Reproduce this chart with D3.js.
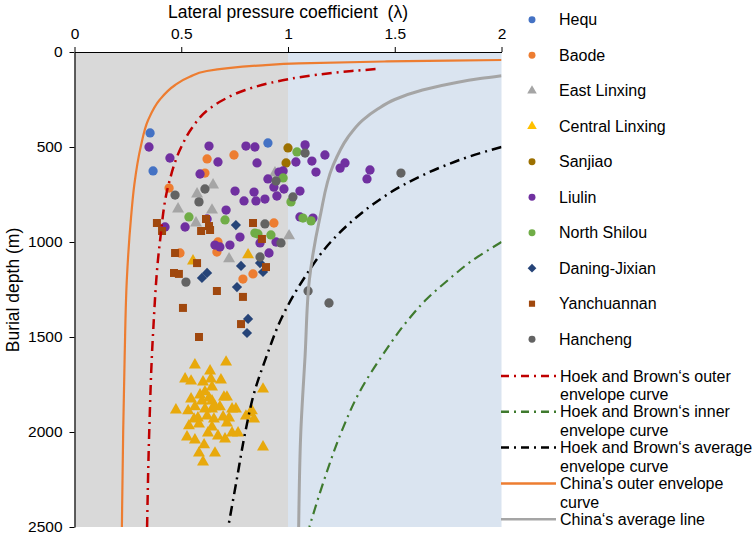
<!DOCTYPE html>
<html><head><meta charset="utf-8">
<script src="https://cdn.jsdelivr.net/npm/d3@7"></script>
<style>
html,body{margin:0;padding:0;background:#fff;}
text{font-family:"Liberation Sans",Arial,sans-serif;fill:#000;}
</style></head>
<body><svg id="c" width="754" height="534"></svg>
<script>
// ---- data: [lambda, depth (m)] ----
const xTicks = [0, 0.5, 1, 1.5, 2];
const yTicks = [0, 500, 1000, 1500, 2000, 2500];
const categories = ["Hequ","Baode","East Linxing","Central Linxing","Sanjiao","Liulin","North Shilou","Daning-Jixian","Yanchuannan","Hancheng"];
const hequ = [[0.354,426],[0.368,626],[0.906,479]];
const baode = [[0.443,716],[0.621,563],[0.747,542],[0.611,637],[0.934,900],[0.672,1000],[0.667,1053],[0.494,1058],[0.789,1195],[0.836,1168]];
const eastLinxing = [[0.649,700],[0.574,747],[0.485,826],[0.644,832],[0.569,900],[0.724,1089],[1.005,968],[0.939,637]];
const centralLinxing = [[0.564,1647],[0.710,1632],[0.635,1679],[0.518,1721],[0.546,1732],[0.602,1737],[0.639,1721],[0.686,1726],[0.644,1763],[0.611,1789],[0.588,1805],[0.700,1816],[0.630,1821],[0.546,1826],[0.597,1837],[0.644,1837],[0.681,1868],[0.714,1816],[0.475,1884],[0.532,1889],[0.564,1868],[0.611,1879],[0.644,1879],[0.658,1868],[0.738,1879],[0.756,1879],[0.831,1889],[0.560,1932],[0.578,1926],[0.621,1916],[0.653,1932],[0.696,1921],[0.724,1926],[0.803,1916],[0.841,1932],[0.536,1968],[0.583,1958],[0.644,1974],[0.714,1953],[0.527,2026],[0.564,2042],[0.625,2005],[0.672,2021],[0.705,2037],[0.738,2005],[0.766,2005],[0.607,2068],[0.583,2111],[0.658,2111],[0.602,2158],[0.883,1774],[0.883,2079],[0.822,1900],[0.555,1100],[0.813,1068]];
const sanjiao = [[1.000,505],[0.991,584]];
const liulin = [[0.349,500],[0.447,558],[0.630,495],[0.672,579],[0.588,642],[0.803,495],[0.845,500],[0.855,584],[0.958,632],[0.906,668],[0.934,711],[0.752,732],[0.841,737],[0.794,784],[0.850,784],[0.892,774],[0.948,758],[0.710,832],[1.080,489],[1.173,542],[1.037,579],[1.112,574],[1.131,632],[1.244,611],[1.267,584],[1.384,621],[1.370,668],[0.977,626],[0.981,721],[1.056,732],[1.056,868],[1.117,874],[0.424,921],[0.518,921],[0.621,879],[0.658,1016],[0.681,1026],[0.728,1016],[0.775,974],[0.869,1005],[0.911,1058],[0.944,1000]];
const northShilou = [[1.042,526],[0.977,663],[1.014,789],[1.070,874],[1.108,889],[0.536,868],[0.705,884],[0.845,953],[0.859,958],[0.920,963]];
const daningJixian = [[0.756,911],[0.780,1126],[0.869,1111],[0.883,1158],[0.621,1163],[0.597,1189],[0.761,1237],[0.813,1405],[0.808,1479]];
const yanchuannan = [[0.386,900],[0.410,942],[0.616,879],[0.630,916],[0.635,937],[0.593,942],[0.836,900],[0.878,984],[0.897,1132],[0.471,1058],[0.574,1111],[0.466,1163],[0.489,1168],[0.667,1258],[0.789,1289],[0.508,1347],[0.583,1500],[0.780,1432]];
const hancheng = [[0.471,753],[0.611,721],[0.583,789],[0.944,679],[1.080,532],[1.023,763],[0.892,905],[0.869,1079],[0.522,1211],[0.967,1005],[1.094,1258],[1.192,1321],[1.529,637]];

// curves: [lambda, depth]
const hbOuter = [[1.41,90],[1.30,100],[1.21,110],[1.07,130],[0.97,150],[0.80,200],[0.70,250],[0.63,300],[0.55,400],[0.50,500],[0.44,700],[0.40,1000],[0.367,1500],[0.35,2000],[0.34,2500]];
const hbInner = [[2.0,1000],[1.86,1100],[1.75,1200],[1.65,1300],[1.57,1400],[1.44,1600],[1.33,1800],[1.25,2000],[1.17,2250],[1.10,2500]];
const hbAverage = [[2.0,500],[1.85,550],[1.73,600],[1.54,700],[1.40,800],[1.29,900],[1.20,1000],[1.07,1200],[0.97,1400],[0.90,1600],[0.84,1800],[0.80,2000],[0.76,2250],[0.72,2500]];
const chinaOuter = [[2.0,42],[1.75,45],[1.45,50],[1.05,60],[0.88,70],[0.72,85],[0.62,100],[0.54,130],[0.47,175],[0.40,250],[0.345,358],[0.31,500],[0.28,700],[0.265,868],[0.245,1200],[0.235,1600],[0.228,2000],[0.222,2500]];
const chinaAverage = [[2.0,125],[1.90,140],[1.79,160],[1.63,200],[1.50,250],[1.42,300],[1.35,358],[1.28,450],[1.21,600],[1.15,868],[1.10,1200],[1.08,1600],[1.06,2000],[1.05,2500]];

const seriesList = [
  {name:"Hequ", data:hequ, shape:"circle", color:"#4472C4"},
  {name:"Baode", data:baode, shape:"circle", color:"#ED7D31"},
  {name:"East Linxing", data:eastLinxing, shape:"triangle", color:"#A5A5A5"},
  {name:"Central Linxing", data:centralLinxing, shape:"triangle", color:"#E8A90C"},
  {name:"Sanjiao", data:sanjiao, shape:"circle", color:"#9C7000"},
  {name:"Liulin", data:liulin, shape:"circle", color:"#7030A0"},
  {name:"North Shilou", data:northShilou, shape:"circle", color:"#70AD47"},
  {name:"Daning-Jixian", data:daningJixian, shape:"diamond", color:"#264478"},
  {name:"Yanchuannan", data:yanchuannan, shape:"square", color:"#A0480E"},
  {name:"Hancheng", data:hancheng, shape:"circle", color:"#636363"}
];
const lineList = [
  {name:["Hoek and Brown\u2018s outer","envelope curve"], data:hbOuter, color:"#C00000", dash:"10,5,2,5", width:2.5},
  {name:["Hoek and Brown\u2018s inner","envelope curve"], data:hbInner, color:"#3F7A2E", dash:"10,5,2,5", width:2.2},
  {name:["Hoek and Brown\u2018s average","envelope curve"], data:hbAverage, color:"#000000", dash:"10,5,2,5", width:2.5},
  {name:["China\u2019s outer envelope","curve"], data:chinaOuter, color:"#ED7D31", dash:null, width:2.2},
  {name:["China\u2018s average line"], data:chinaAverage, color:"#A5A5A5", dash:null, width:3}
];

const svg = d3.select("#c");
const x = d3.scaleLinear().domain([0,2]).range([74.5,501.5]);
const y = d3.scaleLinear().domain([0,2500]).range([52,527]);

// background bands
svg.append("rect").attr("x",x(0)).attr("y",y(0)).attr("width",x(1)-x(0)).attr("height",y(2500)-y(0)).attr("fill","#D9D9D9");
svg.append("rect").attr("x",x(1)).attr("y",y(0)).attr("width",x(2)-x(1)).attr("height",y(2500)-y(0)).attr("fill","#DAE4F0");

svg.append("clipPath").attr("id","clip").append("rect")
  .attr("x",x(0)).attr("y",y(0)).attr("width",x(2)-x(0)).attr("height",y(2500)-y(0));

function symPath(shape, size){
  if(shape==="circle") return d3.symbol(d3.symbolCircle, size)();
  if(shape==="triangle") return d3.symbol(d3.symbolTriangle, size)();
  return d3.symbol(d3.symbolSquare, size)();
}
const sizes = {circle:68, triangle:62, square:64, diamond:52};

// points
const pg = svg.append("g");
seriesList.forEach(s=>{
  pg.selectAll(null).data(s.data).enter().append("path")
    .attr("d", symPath(s.shape, sizes[s.shape]))
    .attr("transform", d=>`translate(${x(d[0])},${y(d[1])})` + (s.shape==="diamond"?" rotate(45)":""))
    .attr("fill", s.color);
});

// curves
const line = d3.line().x(d=>x(d[0])).y(d=>y(d[1])).curve(d3.curveMonotoneY);
const lg = svg.append("g").attr("clip-path","url(#clip)");
lineList.forEach(l=>{
  lg.append("path").attr("d", line(l.data)).attr("fill","none")
    .attr("stroke", l.color).attr("stroke-width", l.width)
    .attr("stroke-dasharray", l.dash);
});

// axes
const ax = svg.append("g").attr("transform",`translate(0,${y(0)})`)
  .call(d3.axisTop(x).tickValues(xTicks).tickFormat(d=>String(d)).tickSize(5).tickSizeOuter(0).tickPadding(8));
const ay = svg.append("g").attr("transform",`translate(${x(0)},0)`)
  .call(d3.axisLeft(y).tickValues(yTicks).tickFormat(d=>String(d)).tickSize(5).tickSizeOuter(0).tickPadding(7));
[ax,ay].forEach(a=>{
  a.select(".domain").attr("stroke","#000").attr("stroke-width",1.2);
  a.selectAll(".tick line").attr("stroke","#000");
  a.selectAll(".tick text").attr("font-size","15.5px").attr("font-family","Liberation Sans, Arial, sans-serif").attr("fill","#000");
});

svg.append("text").attr("x",288).attr("y",18).attr("text-anchor","middle").attr("font-size","17.5px")
  .text("Lateral pressure coefficient\u00a0\u00a0(\u03bb)");
svg.append("text").attr("transform","translate(19,290) rotate(-90)").attr("text-anchor","middle").attr("font-size","17.5px")
  .text("Burial depth (m)");

// legend
const leg = svg.append("g");
seriesList.forEach((s,i)=>{
  const cy = 19.7 + i*35.5;
  leg.append("path").attr("d", symPath(s.shape, s.shape==="triangle"?40:38))
    .attr("transform",`translate(532,${cy})`+(s.shape==="diamond"?" rotate(45)":""))
    .attr("fill", s.color==="#E8A90C"?"#FFC000":s.color);
  leg.append("text").attr("x",559).attr("y",cy).attr("dy","0.35em").attr("font-size","16px").text(s.name);
});
let ly = 376;
lineList.forEach((l,i)=>{
  leg.append("line").attr("x1",501).attr("x2",556).attr("y1",ly).attr("y2",ly)
    .attr("stroke", l.color).attr("stroke-width", 2.5).attr("stroke-dasharray", l.dash ? "8,5,2,5" : null);
  l.name.forEach((t,j)=>{
    leg.append("text").attr("x",560).attr("y",ly+j*18.5).attr("dy","0.35em").attr("font-size","16px").text(t);
  });
  ly += l.name.length===2 ? 35.8 : 18.5;
});
</script></body></html>
